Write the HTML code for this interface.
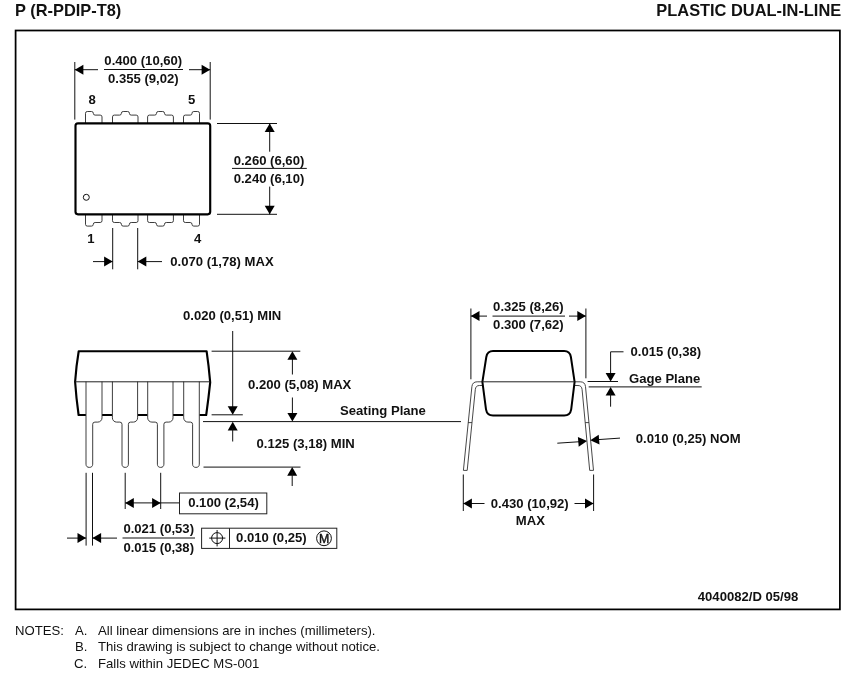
<!DOCTYPE html>
<html><head><meta charset="utf-8"><title>P (R-PDIP-T8) PLASTIC DUAL-IN-LINE</title>
<style>
html,body{margin:0;padding:0;background:#fff;}
svg{display:block;will-change:transform;font-family:"Liberation Sans",sans-serif;}
.t{fill:none;stroke:#111;stroke-width:1;}
.g{fill:#fff;stroke:#333;stroke-width:.95;}
.f{fill:none;stroke:#111;stroke-width:1;}
.L{fill:#fff;stroke:#333;stroke-width:.9;}
.k2{fill:#fff;stroke:#000;stroke-width:2;stroke-linejoin:round;}
.p{fill:none;stroke:#222;stroke-width:1;}
.k{fill:none;stroke:#000;stroke-width:2.15;stroke-linejoin:round;}
.a{fill:#000;stroke:none;}
.h{font-size:16.4px;font-weight:bold;fill:#111;}
.b{font-size:13.1px;font-weight:bold;fill:#111;}
.m{font-size:12.3px;fill:#111;stroke:#111;stroke-width:.45;}
.d{font-size:13.1px;font-weight:bold;fill:#111;}
.n{font-size:13.15px;fill:#111;}
</style></head><body>
<svg width="850" height="677" viewBox="0 0 850 677">
<rect x="0" y="0" width="850" height="677" fill="#fff"/>
<rect x="15.6" y="30.5" width="824.3" height="578.9" fill="none" stroke="#000" stroke-width="1.75"/>
<text class="h" x="15.00" y="16.10">P (R-PDIP-T8)</text>
<text class="h" x="841.20" y="16.10" text-anchor="end">PLASTIC DUAL-IN-LINE</text>
<path class="g" d="M85.5,123.3 V113.3 Q85.5,111.5 87.3,111.5 H91.5 Q93.3,111.5 93.3,113.3 V113.3 Q93.3,115.1 95.1,115.1 H100.2 Q102,115.1 102,116.9 V123.3"/>
<path class="g" d="M85.5,214.3 V224.3 Q85.5,226.1 87.3,226.1 H91.5 Q93.3,226.1 93.3,224.3 V224.3 Q93.3,222.5 95.1,222.5 H100.2 Q102,222.5 102,220.7 V214.3"/>
<path class="g" d="M112.5,123.3 V116.9 Q112.5,115.1 114.3,115.1 H119.6 Q121.4,115.1 121.4,113.3 V113.3 Q121.4,111.5 123.2,111.5 H127.6 Q129.4,111.5 129.4,113.3 V113.3 Q129.4,115.1 131.2,115.1 H136.2 Q138,115.1 138,116.9 V123.3"/>
<path class="g" d="M112.5,214.3 V220.7 Q112.5,222.5 114.3,222.5 H119.6 Q121.4,222.5 121.4,224.3 V224.3 Q121.4,226.1 123.2,226.1 H127.6 Q129.4,226.1 129.4,224.3 V224.3 Q129.4,222.5 131.2,222.5 H136.2 Q138,222.5 138,220.7 V214.3"/>
<path class="g" d="M147.6,123.3 V116.9 Q147.6,115.1 149.4,115.1 H154.7 Q156.5,115.1 156.5,113.3 V113.3 Q156.5,111.5 158.3,111.5 H162.7 Q164.5,111.5 164.5,113.3 V113.3 Q164.5,115.1 166.3,115.1 H171.6 Q173.4,115.1 173.4,116.9 V123.3"/>
<path class="g" d="M147.6,214.3 V220.7 Q147.6,222.5 149.4,222.5 H154.7 Q156.5,222.5 156.5,224.3 V224.3 Q156.5,226.1 158.3,226.1 H162.7 Q164.5,226.1 164.5,224.3 V224.3 Q164.5,222.5 166.3,222.5 H171.6 Q173.4,222.5 173.4,220.7 V214.3"/>
<path class="g" d="M183.5,123.3 V116.9 Q183.5,115.1 185.3,115.1 H190.2 Q192,115.1 192,113.3 V113.3 Q192,111.5 193.8,111.5 H197.7 Q199.5,111.5 199.5,113.3 V123.3"/>
<path class="g" d="M183.5,214.3 V220.7 Q183.5,222.5 185.3,222.5 H190.2 Q192,222.5 192,224.3 V224.3 Q192,226.1 193.8,226.1 H197.7 Q199.5,226.1 199.5,224.3 V214.3"/>
<rect class="k" x="75.50" y="123.30" width="134.70" height="91.00" rx="2.5"/>
<circle class="t" cx="86.3" cy="197.3" r="3"/>
<line class="t" x1="74.80" y1="62.00" x2="74.80" y2="119.60"/>
<line class="t" x1="210.20" y1="62.00" x2="210.20" y2="119.60"/>
<line class="t" x1="74.80" y1="69.70" x2="98.00" y2="69.70"/>
<line class="t" x1="189.00" y1="69.70" x2="210.20" y2="69.70"/>
<polygon class="a" points="74.80,69.70 83.40,64.70 83.40,74.70"/>
<polygon class="a" points="210.20,69.70 201.60,64.70 201.60,74.70"/>
<text class="b" x="143.30" y="65.30" text-anchor="middle">0.400 (10,60)</text>
<line class="f" x1="104.00" y1="69.50" x2="183.00" y2="69.50"/>
<text class="b" x="143.30" y="83.00" text-anchor="middle">0.355 (9,02)</text>
<text class="b" x="92.20" y="103.50" text-anchor="middle">8</text>
<text class="b" x="191.70" y="103.50" text-anchor="middle">5</text>
<text class="b" x="91.00" y="242.50" text-anchor="middle">1</text>
<text class="b" x="197.70" y="242.50" text-anchor="middle">4</text>
<line class="t" x1="217.00" y1="123.50" x2="277.00" y2="123.50"/>
<line class="t" x1="217.00" y1="214.30" x2="277.00" y2="214.30"/>
<line class="t" x1="269.70" y1="123.30" x2="269.70" y2="151.70"/>
<line class="t" x1="269.70" y1="186.60" x2="269.70" y2="214.30"/>
<polygon class="a" points="269.70,123.50 264.70,132.10 274.70,132.10"/>
<polygon class="a" points="269.70,214.30 264.70,205.70 274.70,205.70"/>
<text class="b" x="269.00" y="164.70" text-anchor="middle">0.260 (6,60)</text>
<line class="f" x1="232.00" y1="168.40" x2="306.80" y2="168.40"/>
<text class="b" x="269.00" y="182.80" text-anchor="middle">0.240 (6,10)</text>
<line class="t" x1="112.70" y1="228.00" x2="112.70" y2="269.30"/>
<line class="t" x1="137.70" y1="228.00" x2="137.70" y2="269.30"/>
<line class="t" x1="93.00" y1="261.60" x2="112.70" y2="261.60"/>
<line class="t" x1="137.70" y1="261.60" x2="162.00" y2="261.60"/>
<polygon class="a" points="112.70,261.60 104.10,256.60 104.10,266.60"/>
<polygon class="a" points="137.70,261.60 146.30,256.60 146.30,266.60"/>
<text class="b" x="170.30" y="266.30">0.070 (1,78) MAX</text>
<path class="k" d="M86,415 H78.6 Q76.2,398 75.1,381.8 Q76.2,366 78.7,351.2 H206.6 Q208.8,366 210.2,382.4 Q208.6,398 206.2,415 H199.3 M102,415 H112.4 M137.6,415 H147.7 M173,415 H183.7" />
<path class="g" d="M86,381.6 V464.2 C86,466.2 87.2,467.4 89.35,467.4 C91.5,467.4 92.7,466.2 92.7,464.2 V424.3 A2.2,2.2 0 0 1 94.9,422.1 H97.8 A4.2,4.2 0 0 0 102,417.9 V381.6"/>
<path class="g" d="M112.4,381.6 V417.9 A4.2,4.2 0 0 0 116.6,422.1 H119.8 A2.2,2.2 0 0 1 122,424.3 V464.2 C122,466.2 123.2,467.4 125.2,467.4 C127.2,467.4 128.4,466.2 128.4,464.2 V424.3 A2.2,2.2 0 0 1 130.6,422.1 H133.4 A4.2,4.2 0 0 0 137.6,417.9 V381.6"/>
<path class="g" d="M147.7,381.6 V417.9 A4.2,4.2 0 0 0 151.9,422.1 H155.2 A2.2,2.2 0 0 1 157.4,424.3 V464.2 C157.4,466.2 158.6,467.4 160.65,467.4 C162.7,467.4 163.9,466.2 163.9,464.2 V424.3 A2.2,2.2 0 0 1 166.1,422.1 H168.8 A4.2,4.2 0 0 0 173,417.9 V381.6"/>
<path class="g" d="M183.7,381.6 V417.9 A4.2,4.2 0 0 0 187.9,422.1 H190.4 A2.2,2.2 0 0 1 192.6,424.3 V464.2 C192.6,466.2 193.8,467.4 195.95,467.4 C198.1,467.4 199.3,466.2 199.3,464.2 V381.6"/>
<line class="p" x1="75.30" y1="381.80" x2="210.00" y2="381.80"/>
<text class="b" x="183.00" y="320.00">0.020 (0,51) MIN</text>
<line class="t" x1="232.70" y1="331.00" x2="232.70" y2="410.00"/>
<polygon class="a" points="232.70,414.80 227.70,406.20 237.70,406.20"/>
<line class="t" x1="211.60" y1="351.20" x2="300.30" y2="351.20"/>
<line class="t" x1="211.60" y1="414.80" x2="242.80" y2="414.80"/>
<line class="t" x1="203.00" y1="421.60" x2="461.00" y2="421.60"/>
<line class="t" x1="292.40" y1="355.00" x2="292.40" y2="374.50"/>
<line class="t" x1="292.40" y1="397.50" x2="292.40" y2="418.00"/>
<polygon class="a" points="292.40,351.20 287.40,359.80 297.40,359.80"/>
<polygon class="a" points="292.40,421.60 287.40,413.00 297.40,413.00"/>
<text class="b" x="248.00" y="389.00">0.200 (5,08) MAX</text>
<text class="b" x="340.00" y="415.30">Seating Plane</text>
<polygon class="a" points="232.70,421.80 227.70,430.40 237.70,430.40"/>
<line class="t" x1="232.70" y1="428.00" x2="232.70" y2="441.50"/>
<text class="b" x="256.50" y="448.30">0.125 (3,18) MIN</text>
<line class="t" x1="203.50" y1="467.10" x2="300.50" y2="467.10"/>
<polygon class="a" points="292.20,467.10 287.20,475.70 297.20,475.70"/>
<line class="t" x1="292.20" y1="472.00" x2="292.20" y2="486.00"/>
<line class="t" x1="86.10" y1="472.80" x2="86.10" y2="545.60"/>
<line class="t" x1="92.50" y1="472.80" x2="92.50" y2="545.60"/>
<line class="t" x1="125.20" y1="472.80" x2="125.20" y2="509.00"/>
<line class="t" x1="160.70" y1="472.80" x2="160.70" y2="509.00"/>
<line class="t" x1="125.20" y1="502.90" x2="180.00" y2="502.90"/>
<polygon class="a" points="125.20,502.90 133.80,497.90 133.80,507.90"/>
<polygon class="a" points="160.70,502.90 152.10,497.90 152.10,507.90"/>
<rect class="p" x="179.5" y="493" width="87.3" height="20.8"/>
<text class="b" x="188.20" y="507.20">0.100 (2,54)</text>
<line class="t" x1="67.00" y1="538.10" x2="86.10" y2="538.10"/>
<line class="t" x1="92.50" y1="538.10" x2="117.00" y2="538.10"/>
<polygon class="a" points="86.10,538.10 77.50,533.10 77.50,543.10"/>
<polygon class="a" points="92.50,538.10 101.10,533.10 101.10,543.10"/>
<text class="b" x="123.40" y="533.00">0.021 (0,53)</text>
<line class="f" x1="122.50" y1="538.00" x2="195.00" y2="538.00"/>
<text class="b" x="123.40" y="551.80">0.015 (0,38)</text>
<rect class="p" x="201.6" y="528.2" width="135.2" height="20.2"/>
<line class="p" x1="229.50" y1="528.20" x2="229.50" y2="548.40"/>
<circle class="t" cx="217.1" cy="538.1" r="5.5"/>
<line class="t" x1="209.20" y1="538.10" x2="225.40" y2="538.10"/>
<line class="t" x1="217.10" y1="530.00" x2="217.10" y2="546.40"/>
<text class="b" x="236.10" y="542.10">0.010 (0,25)</text>
<circle class="t" cx="324" cy="538.3" r="7.4"/>
<text class="m" x="324.00" y="542.90" text-anchor="middle">M</text>
<line class="t" x1="470.90" y1="308.50" x2="470.90" y2="379.30"/>
<line class="t" x1="585.90" y1="308.50" x2="585.90" y2="378.30"/>
<line class="t" x1="470.90" y1="316.10" x2="487.00" y2="316.10"/>
<line class="t" x1="569.00" y1="316.10" x2="585.90" y2="316.10"/>
<polygon class="a" points="470.90,316.10 479.50,311.10 479.50,321.10"/>
<polygon class="a" points="585.90,316.10 577.30,311.10 577.30,321.10"/>
<text class="b" x="528.40" y="311.00" text-anchor="middle">0.325 (8,26)</text>
<line class="f" x1="492.50" y1="316.10" x2="565.00" y2="316.10"/>
<text class="b" x="528.40" y="328.80" text-anchor="middle">0.300 (7,62)</text>
<path class="L" d="M484,381.8 H477.2 Q472.4,381.8 471.9,386.6 L463.4,470.4 L467.2,470.4 L475.3,389.6 Q475.7,385.5 479.4,385.5 H484"/>
<path class="L" d="M573,381.8 H580.2 Q585,381.8 585.5,386.6 L593.5,470.4 L589.7,470.4 L582.1,389.6 Q581.7,385.5 578,385.5 H573"/>
<line class="L" x1="468.00" y1="422.60" x2="472.00" y2="422.60"/>
<line class="L" x1="585.20" y1="422.60" x2="589.00" y2="422.60"/>
<path class="k2" d="M493,351.1 H564.2 Q569.8,351.1 570.9,357 L574.6,381.8 L571.2,409.3 Q570.2,415.4 564.2,415.4 H493 Q487,415.4 486,409.3 L482.4,381.8 L486.3,357 Q487.4,351.1 493,351.1 Z"/>
<line class="p" x1="482.40" y1="381.80" x2="574.60" y2="381.80"/>
<text class="b" x="630.50" y="355.60">0.015 (0,38)</text>
<path class="t" d="M623.5,351.8 H610.6 V376"/>
<polygon class="a" points="610.60,381.50 605.60,372.90 615.60,372.90"/>
<line class="t" x1="587.60" y1="381.50" x2="618.00" y2="381.50"/>
<line class="t" x1="588.70" y1="386.90" x2="701.70" y2="386.90"/>
<text class="b" x="629.00" y="382.70">Gage Plane</text>
<polygon class="a" points="610.60,386.90 605.60,395.50 615.60,395.50"/>
<line class="t" x1="610.60" y1="393.00" x2="610.60" y2="406.70"/>
<line class="t" x1="557.30" y1="443.20" x2="580.00" y2="441.70"/>
<line class="t" x1="597.00" y1="439.70" x2="620.00" y2="438.10"/>
<polygon class="a" points="587,441.1 577.9,436.9 578.7,446.7"/>
<polygon class="a" points="590.3,440.3 598.7,434.8 599.5,444.6"/>
<text class="b" x="635.80" y="442.90">0.010 (0,25) NOM</text>
<line class="t" x1="463.30" y1="474.50" x2="463.30" y2="511.00"/>
<line class="t" x1="593.60" y1="474.50" x2="593.60" y2="511.00"/>
<line class="t" x1="463.30" y1="503.50" x2="484.50" y2="503.50"/>
<line class="t" x1="574.50" y1="503.50" x2="593.60" y2="503.50"/>
<polygon class="a" points="463.30,503.50 471.90,498.50 471.90,508.50"/>
<polygon class="a" points="593.60,503.50 585.00,498.50 585.00,508.50"/>
<text class="b" x="490.80" y="507.60">0.430 (10,92)</text>
<text class="b" x="530.40" y="524.70" text-anchor="middle">MAX</text>
<text class="d" x="697.80" y="600.50">4040082/D 05/98</text>
<text class="n" x="15.00" y="635.10">NOTES:</text>
<text class="n" x="75.00" y="635.10">A.</text>
<text class="n" x="98.00" y="635.10">All linear dimensions are in inches (millimeters).</text>
<text class="n" x="75.00" y="650.70">B.</text>
<text class="n" x="98.00" y="650.70">This drawing is subject to change without notice.</text>
<text class="n" x="74.00" y="668.00">C.</text>
<text class="n" x="98.00" y="668.00">Falls within JEDEC MS-001</text>
</svg>
</body></html>
